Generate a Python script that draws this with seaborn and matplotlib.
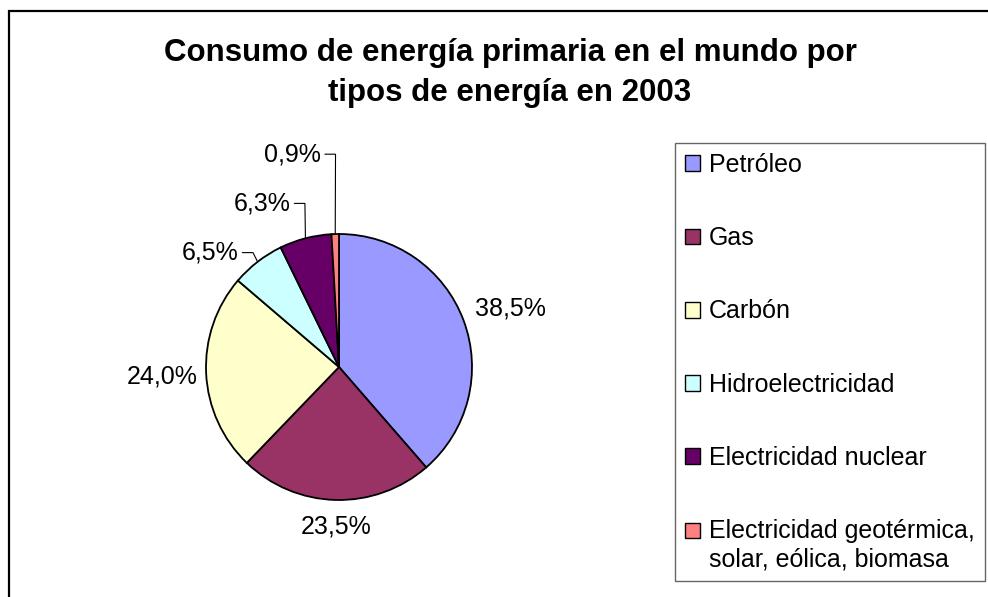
import numpy as np
import matplotlib
matplotlib.use("Agg")
import matplotlib.pyplot as plt
from matplotlib.patches import Patch, Rectangle
from matplotlib.legend_handler import HandlerPatch
import seaborn as sns

# datos del gráfico
tipos = ['Petróleo', 'Gas', 'Carbón', 'Hidroelectricidad',
         'Electricidad nuclear', 'Electricidad geotérmica,\nsolar, eólica, biomasa']
porcentajes = [38.5, 23.5, 24.0, 6.5, 6.3, 0.9]
colores = ['#9999FF', '#993366', '#FFFFCC', '#CCFFFF', '#660066', '#FF8080']
titulo = 'Consumo de energía primaria en el mundo por\ntipos de energía en 2003'

# posición de las etiquetas (x, y en radios) y si llevan línea guía
pos_etiquetas = [(1.29, 0.44), (-0.02, -1.20), (-1.33, -0.07),
                 (-0.97, 0.86), (-0.58, 1.23), (-0.35, 1.60)]
con_guia = [False, False, False, True, True, True]

sns.set_theme(style='white')
plt.rcParams['font.family'] = ['Liberation Sans', 'DejaVu Sans']
plt.rcParams['text.color'] = 'black'

W, H = 988, 597
fig = plt.figure(figsize=(W / 100, H / 100), dpi=100)
fig.patch.set_facecolor('white')

# marco exterior del gráfico
fig.patches.append(Rectangle((9 / W, -0.1), 1.1, 1.1 - 11 / H, transform=fig.transFigure,
                             fill=False, edgecolor='black', linewidth=1.6))

cx, cy, r = 339, 367, 133
ax = fig.add_axes([(cx - r) / W, (H - cy - r) / H, 2 * r / W, 2 * r / H])
ax.set_axis_off()

wedges, _ = ax.pie(porcentajes, colors=sns.color_palette(colores), startangle=90,
                   counterclock=False, radius=1,
                   wedgeprops=dict(edgecolor='black', linewidth=1.3))
ax.set_xlim(-1, 1)
ax.set_ylim(-1, 1)

for w, v, (tx, ty), guia in zip(wedges, porcentajes, pos_etiquetas, con_guia):
    txt = f'{v:.1f}%'.replace('.', ',')
    ang = np.deg2rad((w.theta1 + w.theta2) / 2)
    ex, ey = np.cos(ang), np.sin(ang)
    t = ax.text(tx, ty, txt, ha='center', va='center', fontsize=18, clip_on=False)
    if guia:
        fig.canvas.draw()
        bb = t.get_window_extent().transformed(ax.transData.inverted())
        x0 = bb.x1 + 0.03
        ax.plot([x0, x0 + 0.08, ex], [ty, ty, ey], color='black', lw=0.8,
                clip_on=False, solid_joinstyle='miter')


# el cuadrado de la última entrada va a la altura de la primera línea
def cuadro(subir):
    def f(legend, orig_handle, xdescent, ydescent, width, height, fontsize):
        return Rectangle((-xdescent, -ydescent + subir), width, height)
    return HandlerPatch(patch_func=f)


handles = [Patch(facecolor=c, edgecolor='black', linewidth=1.0) for c in colores]
leg = fig.legend(handles, tipos, loc='upper left', bbox_to_anchor=(675 / W, 1 - 143 / H),
                 fontsize=18, frameon=True, fancybox=False, borderaxespad=0,
                 handlelength=0.6, handleheight=0.6, handletextpad=0.35,
                 borderpad=0.4, labelspacing=1.97,
                 handler_map={handles[-1]: cuadro(11)})
leg.get_frame().set_edgecolor('#404040')
leg.get_frame().set_linewidth(1.0)

fig.text(510 / W, 1 - 38 / H, titulo, ha='center', va='top', fontsize=22.5,
         fontweight='bold', linespacing=1.45)

fig.savefig('out.png', dpi=100)
